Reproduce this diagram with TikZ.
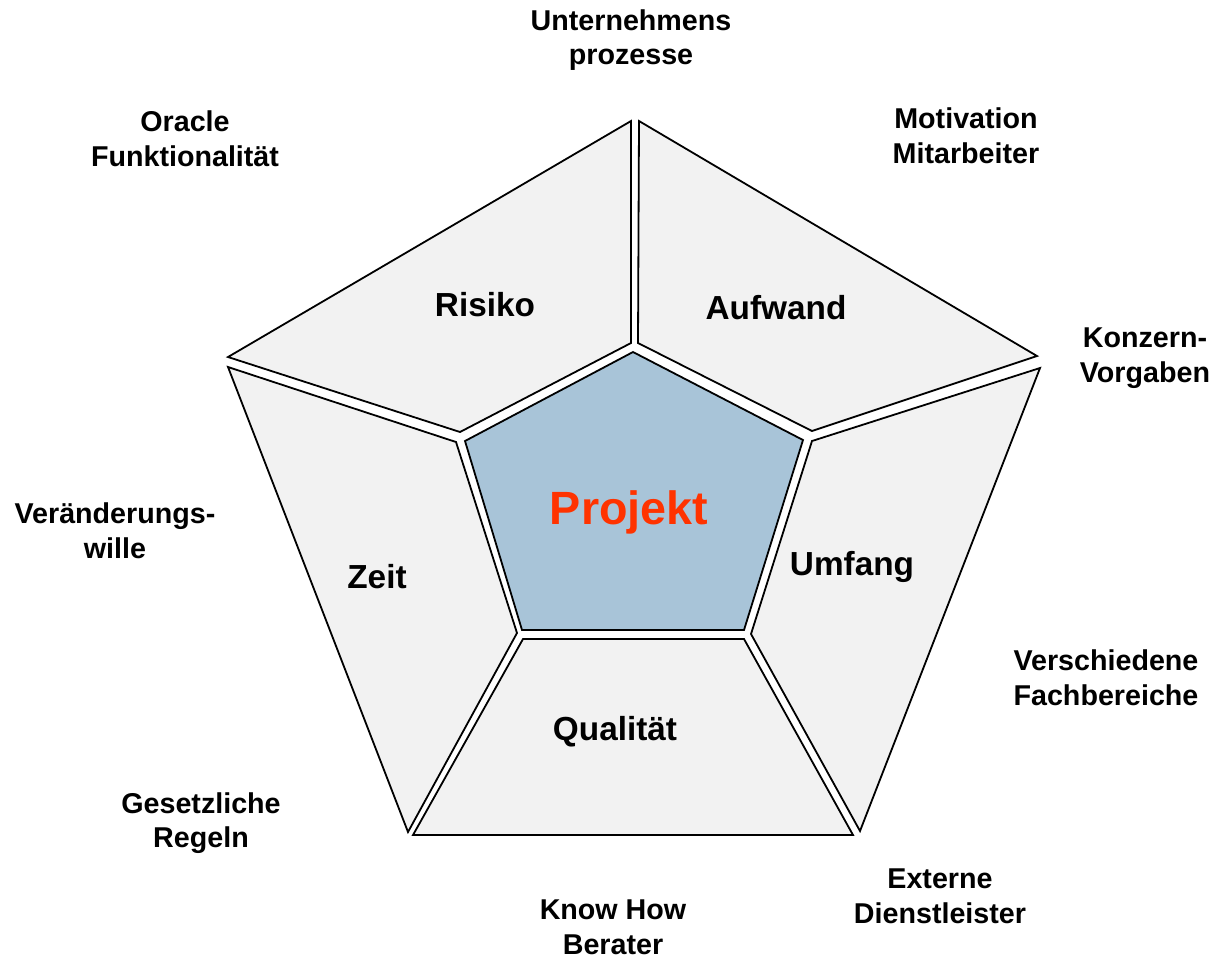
\documentclass[tikz,border=0pt]{standalone}
\usepackage{fontspec}
\setmainfont{Liberation Sans}
\definecolor{segfill}{HTML}{F2F2F2}
\definecolor{corefill}{HTML}{A8C4D8}
\definecolor{projred}{HTML}{FF3300}
\begin{document}
\begin{tikzpicture}[x=0.75pt,y=-0.75pt,
  seg/.style={draw=black,line width=1.35pt,fill=segfill,line join=miter},
  core/.style={draw=black,line width=1.35pt,fill=corefill},
  seglabel/.style={font=\fontsize{25}{30}\selectfont\bfseries,text=black},
  outlabel/.style={font=\fontsize{21.5}{26}\selectfont\bfseries,text=black,align=center},
  corelabel/.style={font=\fontsize{35}{40}\selectfont\bfseries,text=projred}]
\useasboundingbox (0,0) rectangle (1216,958);
\fill[white] (0,0) rectangle (1216,958);
% segments
\draw[seg] (631,121) -- (631,343) -- (460,432) -- (228,357) -- cycle;
\draw[seg] (639,121) -- (1037,356) -- (812,431) -- (638,343) -- cycle;
\draw[seg] (812,441) -- (1040,368) -- (860,831) -- (751,634) -- cycle;
\draw[seg] (523,639) -- (744,639) -- (853,835) -- (413,835) -- cycle;
\draw[seg] (228,367) -- (456,442) -- (517,633) -- (408,832) -- cycle;
% core
\draw[core] (633,352) -- (803,440) -- (744,630) -- (522,630) -- (465,441) -- cycle;
% labels
\node[corelabel] (projekt) at (629,512) {Projekt};
\node[seglabel] (risiko) at (485,305) {Risiko};
\node[seglabel] (aufwand) at (776,308) {Aufwand};
\node[seglabel] (umfang) at (852,567) {Umfang};
\node[seglabel] (qualitaet) at (615,732) {Qualität};
\node[seglabel] (zeit) at (377,577) {Zeit};
% outer labels
\node[outlabel] (l1) at (631,40) {Unternehmens\\prozesse};
\node[outlabel] (l2) at (185,139) {Oracle\\Funktionalität};
\node[outlabel] (l3) at (966,136) {Motivation\\Mitarbeiter};
\node[outlabel] (l4) at (1145,358) {Konzern-\\Vorgaben};
\node[outlabel] (l5) at (115,531) {Veränderungs-\\wille};
\node[outlabel] (l6) at (1106,678) {Verschiedene\\Fachbereiche};
\node[outlabel] (l7) at (201,823) {Gesetzliche\\Regeln};
\node[outlabel] (l8) at (613,927) {Know How\\Berater};
\node[outlabel] (l9) at (940,896) {Externe\\Dienstleister};
\end{tikzpicture}
\end{document}
